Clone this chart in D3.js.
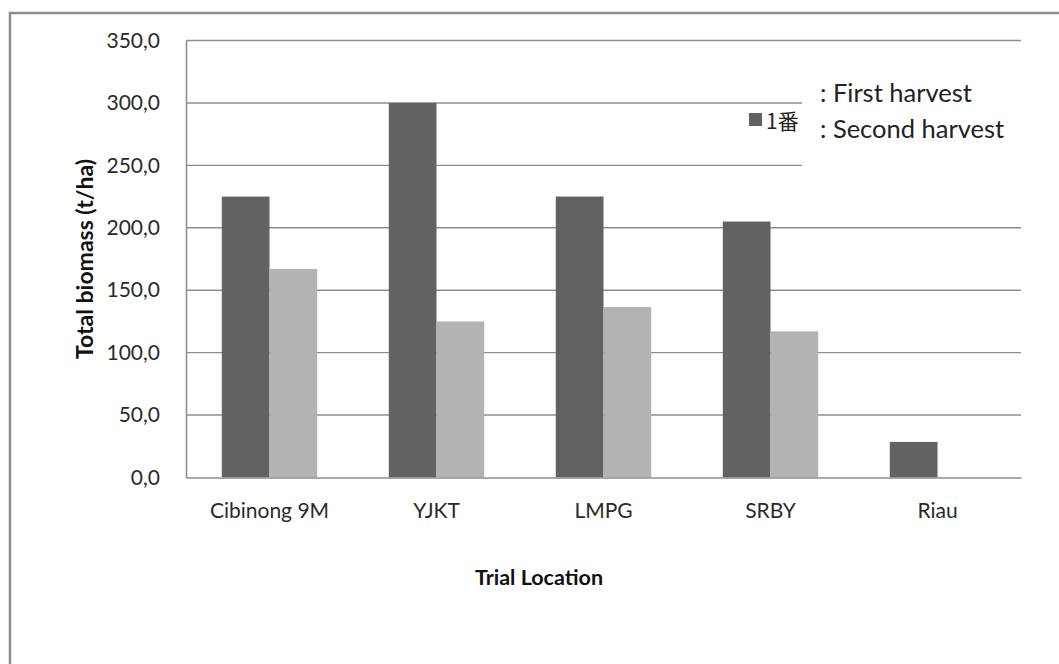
<!DOCTYPE html>
<html>
<head>
<meta charset="utf-8">
<script src="https://cdn.jsdelivr.net/npm/d3@7"></script>
<style>
  html, body { margin: 0; padding: 0; background: #fff; }
  svg { display: block; }
  text { font-family: Lato, "Open Sans", sans-serif; }
</style>
</head>
<body>
<svg id="chart" width="1059" height="664"></svg>
<script>
// Trial locations and total biomass (t/ha) per harvest
const categories = ["Cibinong 9M", "YJKT", "LMPG", "SRBY", "Riau"];
const seriesNames = ["First harvest", "Second harvest"];
const firstHarvest = [225, 300, 225, 205, 28.5];
const secondHarvest = [167, 125, 136.5, 117, null];
const yTicks = [0, 50, 100, 150, 200, 250, 300, 350];

const colors = { "First harvest": "#626262", "Second harvest": "#b3b3b3" };

const svg = d3.select("#chart");
const W = 1059, H = 664;
const plot = { left: 186, right: 1021, top: 40.5, bottom: 477.5 };

// outer frame of the chart area
svg.append("rect")
  .attr("x", 10).attr("y", 13)
  .attr("width", W + 20).attr("height", H + 20)
  .attr("fill", "#fff").attr("stroke", "#8c8c8c").attr("stroke-width", 2.5);

const x = d3.scaleBand().domain(categories).range([plot.left, plot.right]).padding(0);
const xInner = d3.scaleBand().domain(seriesNames).range([0, x.bandwidth()])
  .paddingInner(0).paddingOuter(0.75);
const y = d3.scaleLinear().domain([0, 350]).range([plot.bottom, plot.top]);

// horizontal gridlines
svg.append("g").selectAll("line").data(yTicks.slice(1)).join("line")
  .attr("x1", plot.left).attr("x2", plot.right)
  .attr("y1", d => y(d)).attr("y2", d => y(d))
  .attr("stroke", "#8e8e8e").attr("stroke-width", 1.4);

// text box of the legend hides the gridlines behind it
svg.append("rect")
  .attr("x", 802).attr("y", 72).attr("width", 230).attr("height", 105)
  .attr("fill", "#fff");

// y axis
const fmt = v => d3.format(".1f")(v).replace(".", ",");
const yAxis = svg.append("g")
  .attr("transform", `translate(${plot.left},0)`)
  .call(d3.axisLeft(y).tickValues(yTicks).tickFormat(fmt).tickSize(0).tickPadding(26));
yAxis.select(".domain").attr("stroke", "#8e8e8e").attr("stroke-width", 1.6);
yAxis.selectAll("text").attr("font-size", 21).attr("fill", "#2a2a2a")
  .style("font-family", "Lato, sans-serif");

// bars
const rows = categories.map((c, i) => ({ cat: c, values: [
  { key: seriesNames[0], v: firstHarvest[i] },
  { key: seriesNames[1], v: secondHarvest[i] }
]}));
svg.append("g").selectAll("g").data(rows).join("g")
  .attr("transform", d => `translate(${x(d.cat)},0)`)
  .selectAll("rect").data(d => d.values.filter(s => s.v != null)).join("rect")
  .attr("x", d => xInner(d.key))
  .attr("width", xInner.bandwidth())
  .attr("y", d => y(d.v))
  .attr("height", d => y(0) - y(d.v))
  .attr("fill", d => colors[d.key]);

// x axis
const xAxis = svg.append("g")
  .attr("transform", `translate(0,${plot.bottom})`)
  .call(d3.axisBottom(x).tickSize(0).tickPadding(26));
xAxis.select(".domain").attr("stroke", "#8e8e8e").attr("stroke-width", 1.6);
xAxis.selectAll("text").attr("font-size", 21).attr("fill", "#2a2a2a")
  .style("font-family", "Lato, sans-serif");

// axis titles
svg.append("text")
  .attr("transform", "translate(93,259) rotate(-90)")
  .attr("text-anchor", "middle")
  .attr("font-size", 23).attr("font-weight", "bold").attr("fill", "#111")
  .text("Total biomass (t/ha)");
svg.append("text")
  .attr("x", 539).attr("y", 585)
  .attr("text-anchor", "middle")
  .attr("font-size", 21.5).attr("font-weight", "bold").attr("fill", "#111")
  .text("Trial Location");

// legend
svg.append("rect")
  .attr("x", 749).attr("y", 113).attr("width", 13).attr("height", 13)
  .attr("fill", colors["First harvest"]);
svg.append("text")
  .attr("x", 766).attr("y", 129)
  .attr("font-size", 21).attr("fill", "#222")
  .style("font-family", "'Noto Sans CJK JP', Lato, sans-serif")
  .text("1番");
svg.append("text")
  .attr("x", 820).attr("y", 102)
  .attr("font-size", 25.5).attr("fill", "#222")
  .text(": " + seriesNames[0]);
svg.append("text")
  .attr("x", 820).attr("y", 138)
  .attr("font-size", 25.5).attr("fill", "#222")
  .text(": " + seriesNames[1]);
</script>
</body>
</html>
